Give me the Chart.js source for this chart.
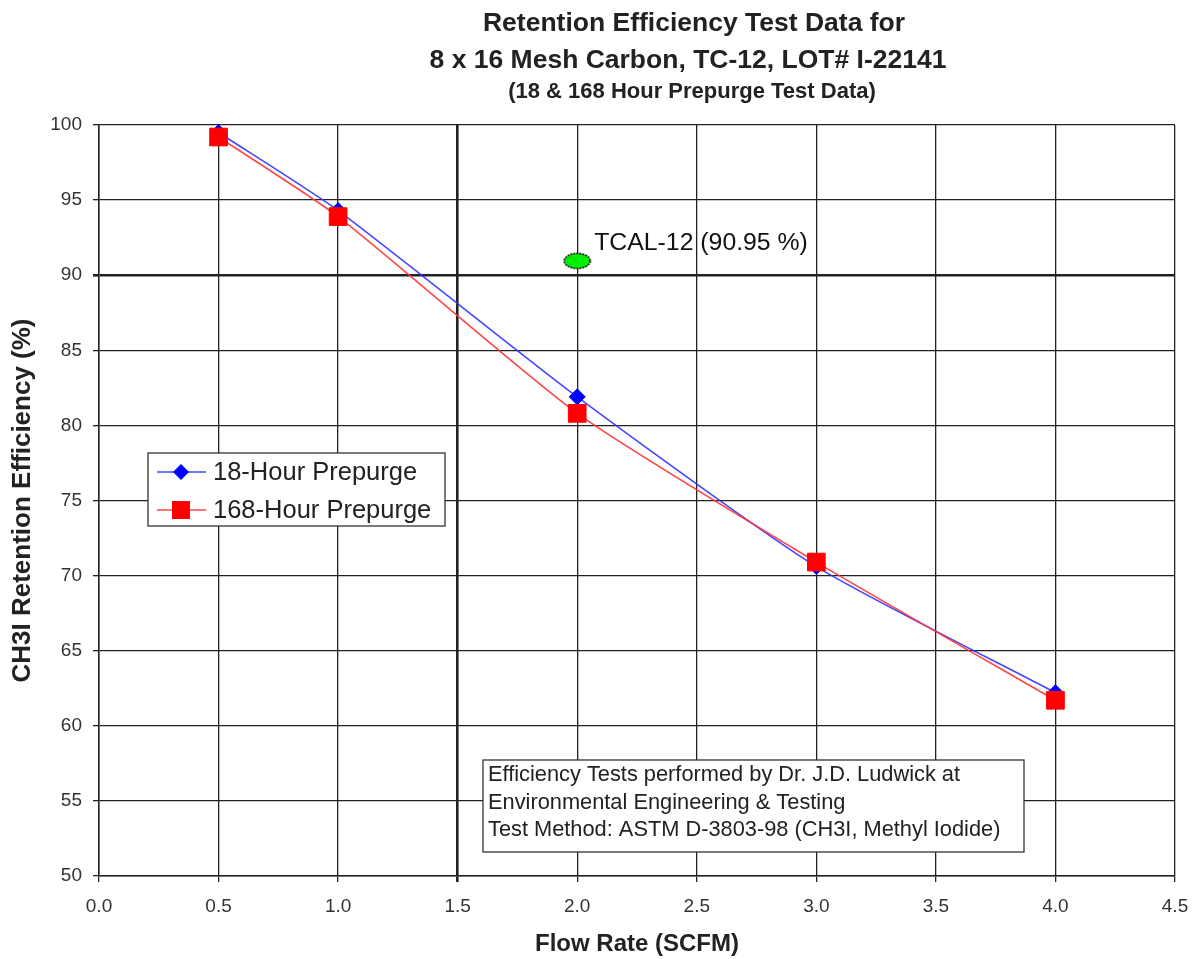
<!DOCTYPE html>
<html>
<head>
<meta charset="utf-8">
<script src="https://cdn.jsdelivr.net/npm/chart.js@4.4.0/dist/chart.umd.min.js"></script>
<style>
  html, body { margin: 0; padding: 0; background: #fff; }
  #chart { display: block; }
</style>
</head>
<body>
<canvas id="chart" width="1195" height="959"></canvas>
<script>
const flowRates = [0.5, 1.0, 2.0, 3.0, 4.0];
const prepurge18 = [99.5, 94.3, 81.9, 70.6, 62.2];
const prepurge168 = [99.2, 93.9, 80.8, 70.9, 61.7];
const tcalFlow = [2.0];
const tcalValue = [90.95];
const seriesNames = ['18-Hour Prepurge', '168-Hour Prepurge'];
const tcalLabel = 'TCAL-12 (90.95 %)';
const titleLines = ['Retention Efficiency Test Data for', '8 x 16 Mesh Carbon, TC-12, LOT# I-22141'];
const subtitleText = '(18 & 168 Hour Prepurge Test Data)';
const noteLines = [
    'Efficiency Tests performed by Dr. J.D. Ludwick at',
    'Environmental Engineering & Testing',
    'Test Method: ASTM D-3803-98 (CH3I, Methyl Iodide)'
];
const xTitle = 'Flow Rate (SCFM)';
const yTitle = 'CH3I Retention Efficiency (%)';

const FONT = '"Liberation Sans", Arial, sans-serif';
const blueLine = 'rgba(50,50,255,0.9)';
const redLine = 'rgba(255,50,50,0.9)';

// green ellipse marker for the TCAL-12 point
function makeEllipse() {
    const c = document.createElement('canvas');
    c.width = 30;
    c.height = 18;
    const ctx = c.getContext('2d');
    ctx.beginPath();
    ctx.ellipse(15, 9, 13, 7.5, 0, 0, Math.PI * 2);
    ctx.fillStyle = '#00ee00';
    ctx.fill();
    ctx.lineWidth = 1.6;
    ctx.strokeStyle = '#111';
    ctx.setLineDash([2, 1]);
    ctx.stroke();
    return c;
}

function toPoints(xs, ys) {
    return xs.map((x, i) => ({ x, y: ys[i] }));
}

const overlayPlugin = {
    id: 'overlay',
    afterDatasetsDraw(chart) {
        const ctx = chart.ctx;
        const xs = chart.scales.x;
        const ys = chart.scales.y;
        ctx.save();

        // titles (sit right of centre in the original)
        ctx.fillStyle = '#222';
        ctx.textAlign = 'center';
        ctx.textBaseline = 'middle';
        ctx.font = 'bold 26.5px ' + FONT;
        ctx.fillText(titleLines[0], 694, 24);
        ctx.fillText(titleLines[1], 688, 61);
        ctx.font = 'bold 22px ' + FONT;
        ctx.fillText(subtitleText, 692, 92);
        ctx.textAlign = 'left';

        // TCAL label
        const tx = xs.getPixelForValue(tcalFlow[0]);
        const ty = ys.getPixelForValue(tcalValue[0]);
        ctx.fillStyle = '#111';
        ctx.font = '24.8px ' + FONT;
        ctx.fillText(tcalLabel, tx + 17, ty - 18);

        // legend box
        ctx.fillStyle = '#fff';
        ctx.fillRect(148, 453, 297, 73);
        ctx.strokeStyle = '#333';
        ctx.lineWidth = 1.3;
        ctx.strokeRect(148, 453, 297, 73);
        const rows = [472, 510];
        rows.forEach((ry, i) => {
            ctx.strokeStyle = i === 0 ? blueLine : redLine;
            ctx.lineWidth = 1.5;
            ctx.beginPath();
            ctx.moveTo(157, ry);
            ctx.lineTo(206, ry);
            ctx.stroke();
            if (i === 0) {
                ctx.fillStyle = '#0000ff';
                ctx.beginPath();
                ctx.moveTo(181, ry - 8);
                ctx.lineTo(189, ry);
                ctx.lineTo(181, ry + 8);
                ctx.lineTo(173, ry);
                ctx.closePath();
                ctx.fill();
            } else {
                ctx.fillStyle = '#ff0000';
                ctx.fillRect(172, ry - 9, 18, 18);
            }
            ctx.fillStyle = '#222';
            ctx.font = '25.5px ' + FONT;
            ctx.fillText(seriesNames[i], 213, ry + 1);
        });

        // note box
        ctx.fillStyle = '#fff';
        ctx.fillRect(483, 760, 541, 92);
        ctx.strokeStyle = '#333';
        ctx.lineWidth = 1.3;
        ctx.strokeRect(483, 760, 541, 92);
        ctx.fillStyle = '#222';
        ctx.font = '21.8px ' + FONT;
        noteLines.forEach((line, i) => {
            ctx.fillText(line, 488, 775 + i * 27.5);
        });
        ctx.restore();
    }
};

const chart = new Chart(document.getElementById('chart'), {
    type: 'scatter',
    data: {
        datasets: [
            {
                label: seriesNames[1],
                data: toPoints(flowRates, prepurge168),
                showLine: true,
                tension: 0.2,
                borderColor: redLine,
                borderWidth: 1.6,
                pointStyle: 'rect',
                pointRadius: 12.5,
                pointBackgroundColor: '#ff0000',
                pointBorderColor: '#ff0000',
                pointBorderWidth: 1,
                order: 0
            },
            {
                label: seriesNames[0],
                data: toPoints(flowRates, prepurge18),
                showLine: true,
                tension: 0.2,
                borderColor: blueLine,
                borderWidth: 1.6,
                pointStyle: 'rectRot',
                pointRadius: 8,
                pointBackgroundColor: '#0000ff',
                pointBorderColor: '#0000ff',
                pointBorderWidth: 1,
                order: 1
            },
            {
                label: 'TCAL-12',
                data: toPoints(tcalFlow, tcalValue),
                pointStyle: makeEllipse(),
                pointRadius: 10,
                order: 2
            }
        ]
    },
    options: {
        responsive: false,
        animation: false,
        layout: { padding: { left: 0, right: 20, top: 125, bottom: 0 } },
        plugins: {
            legend: { display: false },
            tooltip: { enabled: false },
            title: { display: false }
        },
        scales: {
            x: {
                type: 'linear',
                min: 0,
                max: 4.5,
                afterFit: s => {
                    s.height = 83;
                    s.paddingRight = 0;
                    s.paddingLeft = 0;
                },
                ticks: {
                    stepSize: 0.5,
                    padding: 13,
                    color: '#333',
                    font: { family: FONT, size: 19 },
                    callback: v => v.toFixed(1)
                },
                grid: {
                    color: '#222',
                    tickLength: 6,
                    lineWidth: c => (c.tick && c.tick.value === 1.5 ? 2.6 : 1.3)
                },
                border: { color: '#222', width: 1.5 },
                title: {
                    display: true,
                    text: xTitle,
                    color: '#222',
                    font: { family: FONT, size: 24, weight: 'bold', lineHeight: 1.2 },
                    padding: { top: 0, bottom: 0 }
                }
            },
            y: {
                min: 50,
                max: 100,
                afterFit: s => { s.width = 99; },
                ticks: {
                    stepSize: 5,
                    padding: 11,
                    color: '#333',
                    font: { family: FONT, size: 19 }
                },
                grid: {
                    color: '#222',
                    tickLength: 6,
                    lineWidth: c => (c.tick && c.tick.value === 90 ? 2.6 : 1.3)
                },
                border: { color: '#222', width: 1.5 },
                title: {
                    display: true,
                    text: yTitle,
                    color: '#222',
                    font: { family: FONT, size: 26, weight: 'bold', lineHeight: 1.2 },
                    padding: { top: 7.4, bottom: 0 }
                }
            }
        }
    },
    plugins: [overlayPlugin]
});
</script>
</body>
</html>
